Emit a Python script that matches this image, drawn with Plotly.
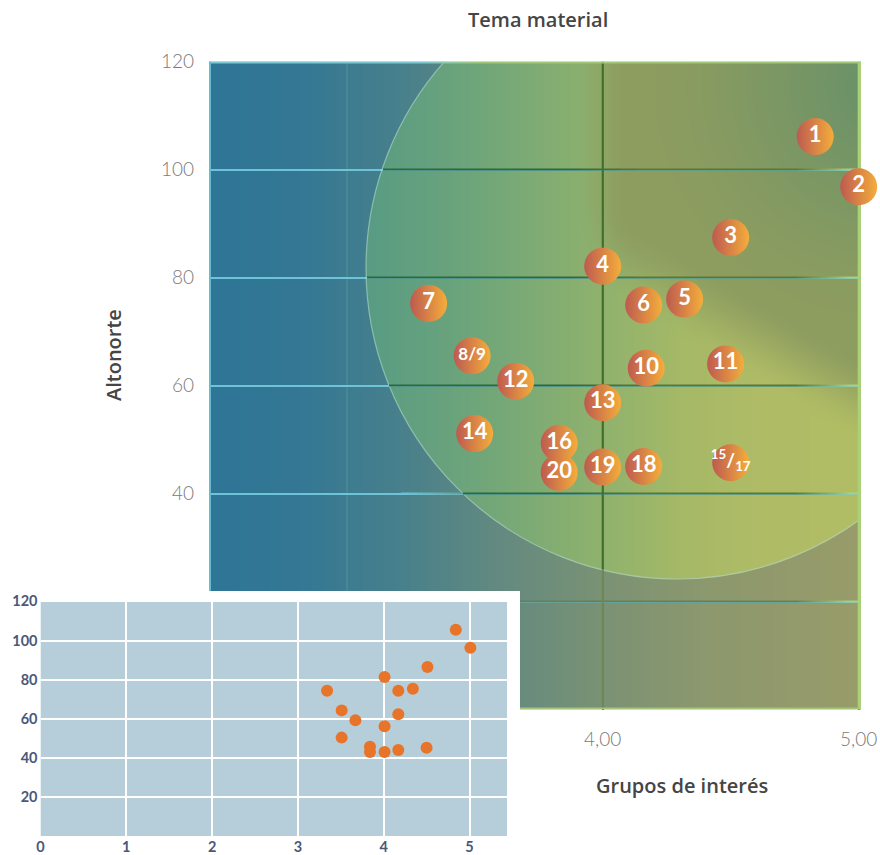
import base64, struct, zlib
import numpy as np
import plotly.graph_objects as go

# ---------------- data ----------------
labels = ["1", "2", "3", "4", "5", "6", "7", "8/9", "10", "11", "12", "13", "14",
          "<sup>15</sup>/<sub>17</sub>", "16", "18", "19", "20"]
grupos_interes = [4.83, 5.00, 4.50, 4.00, 4.32, 4.16, 3.32, 3.49, 4.17, 4.48, 3.66, 4.00,
                  3.50, 4.50, 3.83, 4.16, 4.00, 3.83]
altonorte = [106.1, 96.8, 87.4, 82.1, 76.0, 74.9, 75.2, 65.5, 63.2, 64.0, 60.8, 56.8,
             51.1, 45.7, 49.3, 45.0, 44.9, 43.9]

inset_x = [4.84, 5.01, 4.51, 4.01, 4.34, 4.17, 3.34, 3.51, 3.67, 4.17, 4.01, 3.51,
           3.84, 3.84, 4.01, 4.17, 4.50]
inset_y = [105.5, 96.3, 86.5, 81.4, 75.4, 74.4, 74.4, 64.4, 59.3, 62.4, 56.3, 50.5,
           45.8, 43.2, 43.2, 44.2, 45.3]

x_ticks_main = [3, 4, 5]
y_ticks_main = [0, 20, 40, 60, 80, 100, 120]
x_ticks_inset = [0, 1, 2, 3, 4, 5]
y_ticks_inset = [20, 40, 60, 80, 100, 120]

# ---------------- geometry (pixels) ----------------
FW, FH = 880, 855
X0P, X1P = 209.0, 861.0
Y0P, Y1P = 61.5, 709.5
PXU = 256.0                       # px per x unit
XMIN = 4 - (602.7 - X0P) / PXU
XMAX = XMIN + (X1P - X0P) / PXU
YMAX = 120.0
PYU = (Y1P - Y0P) / YMAX

CXP, CYP, RP = 677.0, 268.0, 311.0   # decorative circle (px)

# inset box (px)
INS_X0, INS_X1 = 40.5, 520.0
INS_Y0, INS_Y1 = 591.0, 836.6
IXU = 85.8
IYU = 1.96
INS_BG_RIGHT = 507.0


def dx(p):
    return XMIN + (p - X0P) / PXU


def dy(p):
    return (Y1P - p) / PYU


def clamp(v, a=0.0, b=1.0):
    return max(a, min(b, v))


def mix(c1, c2, t):
    return tuple(c1[i] + (c2[i] - c1[i]) * t for i in range(3))


def sstep(a):
    a = np.clip(a, 0, 1)
    return a * a * (3 - 2 * a)


# ---------------- background image ----------------
OUT_STOPS = [(209, (47, 117, 151)), (300, (52, 120, 148)), (400, (72, 128, 140)),
             (500, (100, 138, 128)), (600, (122, 146, 117)), (700, (140, 152, 110)),
             (861, (153, 156, 106))]
IN_STOPS = [(365, (88, 156, 132)), (450, (105, 163, 125)), (540, (128, 172, 116)),
            (600, (143, 178, 110)), (680, (165, 185, 103)), (760, (176, 188, 102)),
            (861, (178, 190, 100))]
OLIVE = (141, 157, 96)
DARKG = (94, 142, 108)

W, H = int(X1P - X0P), int(Y1P - Y0P)
PX, PY = np.meshgrid(X0P + np.arange(W) + 0.5, Y0P + np.arange(H) + 0.5)


def interp(xs, stops):
    sx = np.array([s[0] for s in stops], float)
    return np.stack([np.interp(xs, sx, [s[1][k] for s in stops]) for k in range(3)], axis=-1)


out_c = interp(PX, OUT_STOPS)
in_c = interp(PX, IN_STOPS)
# olive zone: right of px~600, above a line through (620,260)-(860,400)
hx = sstep((PX - 570) / 60)
line_py = 260 + (PX - 620) * (140.0 / 240.0)
hy = sstep((line_py - PY + 45) / 90)
w1 = hx * hy
in_c = in_c + (np.array(OLIVE) - in_c) * w1[..., None]
w2 = np.clip(1 - np.hypot(PX - 885, PY - 85) / 230, 0, 1) ** 1.3 * 0.85
in_c = in_c + (np.array(DARKG) - in_c) * w2[..., None]
alpha = np.clip(RP - np.hypot(PX - CXP, PY - CYP) + 0.5, 0, 1)[..., None]
img = np.clip(out_c * (1 - alpha) + in_c * alpha, 0, 255).astype(np.uint8)


def png_uri(arr):
    h, w, _ = arr.shape
    a = arr.astype(np.int16)
    d = a.copy()
    d[:, 1:, :] = (a[:, 1:, :] - a[:, :-1, :]) % 256
    raw = np.concatenate([np.ones((h, 1), np.uint8), d.astype(np.uint8).reshape(h, w * 3)], axis=1).tobytes()

    def chunk(t, data):
        return struct.pack('>I', len(data)) + t + data + struct.pack('>I', zlib.crc32(t + data) & 0xffffffff)

    png = (b'\x89PNG\r\n\x1a\n' + chunk(b'IHDR', struct.pack('>IIBBBBB', w, h, 8, 2, 0, 0, 0))
           + chunk(b'IDAT', zlib.compress(raw, 9)) + chunk(b'IEND', b''))
    return 'data:image/png;base64,' + base64.b64encode(png).decode()


# ---------------- grid / border overlay segments ----------------
CYAN = (110, 195, 215)
LIGHTG = (172, 208, 122)


def q(c):
    return tuple(int(round(v / 4.0) * 4) for v in c)


def hcol(p, py):
    if np.hypot(p - CXP, py - CYP) <= RP:
        c = mix((50, 102, 58), (92, 118, 44), clamp((p - 560) / 80))
    else:
        c = mix(CYAN, (100, 128, 88), clamp((p - 400) / 120))
    return mix(c, LIGHTG, clamp((p - 795) / 55))


def vcol4(p, py):
    if np.hypot(p - CXP, py - CYP) <= RP:
        return (66, 110, 48)
    return (110, 138, 86)


shapes = []


def runs(start, end, colfn, skip=None, step=2.0):
    out = []
    cur, s0 = None, start
    p = start
    while p < end:
        c = q(colfn(p + step / 2))
        if c != cur:
            if cur is not None:
                out.append((s0, p, cur))
            cur, s0 = c, p
        p += step
    out.append((s0, end, cur))
    return [r for r in out if skip is None or r[2] != q(skip)]


def hline(yv, colfn, skip=None, width=2):
    py = Y1P - yv * PYU
    for a, b, c in runs(X0P, X1P, lambda p: colfn(p, py), skip):
        shapes.append(dict(type='line', xref='x', yref='y', x0=dx(a), x1=dx(b), y0=yv, y1=yv,
                           line=dict(color='rgb(%d,%d,%d)' % c, width=width), layer='between'))


def vline(xv, colfn, width=2):
    p = X0P + (xv - XMIN) * PXU
    for a, b, c in runs(Y0P, Y1P, lambda py: colfn(p, py)):
        shapes.append(dict(type='line', xref='x', yref='y', x0=xv, x1=xv, y0=dy(a), y1=dy(b),
                           line=dict(color='rgb(%d,%d,%d)' % c, width=width), layer='between'))


# circle outline
cx, cy, rx, ry = dx(CXP), dy(CYP), RP / PXU, RP / PYU
shapes.append(dict(type='circle', xref='x', yref='y', x0=cx - rx, x1=cx + rx, y0=cy - ry, y1=cy + ry,
                   line=dict(color='rgba(190,228,205,0.55)', width=1.2), fillcolor='rgba(0,0,0,0)',
                   layer='between'))

for yv in y_ticks_main[1:-1]:
    hline(yv, hcol, skip=CYAN)
for xv in x_ticks_main:
    if xv == 4:
        vline(xv, vcol4)
    elif xv == 5:
        vline(xv, lambda p, py: LIGHTG)

# borders
hline(YMAX - 1 / PYU, lambda p, py: mix((125, 198, 212), (160, 202, 122), clamp((p - 420) / 60)))
hline(1 / PYU, lambda p, py: (165, 196, 118))
vline(XMIN + 1 / PXU, lambda p, py: (100, 188, 210))
vline(XMAX - 1 / PXU, lambda p, py: (168, 208, 122))

# inset background (drawn in the inset subplot, above the main subplot)
IX_MAX = (INS_X1 - INS_X0) / IXU
IY_MAX = (INS_Y1 - INS_Y0) / IYU
shapes.append(dict(type='rect', xref='x2', yref='y2', x0=-1, x1=IX_MAX + 1, y0=-10, y1=IY_MAX + 10,
                   fillcolor='white', line=dict(width=0), layer='below'))
shapes.append(dict(type='rect', xref='x2', yref='y2', x0=0, x1=(INS_BG_RIGHT - INS_X0) / IXU, y0=0, y1=120,
                   fillcolor='#b5ced9', line=dict(width=0), layer='below'))

# ---------------- figure ----------------
fig = go.Figure()
text_sizes = [22 if len(t) <= 2 else (19 if t.startswith('<sup>') else 17) for t in labels]
fig.add_trace(go.Scatter(
    x=grupos_interes, y=altonorte, mode='markers+text', text=labels,
    textposition='middle center',
    textfont=dict(family='Lato', size=text_sizes, color='white', weight='bold'),
    marker=dict(size=37, color='#bd5a50', line=dict(width=0),
                gradient=dict(type='horizontal', color='#f4ad3b')),
    hoverinfo='skip', xaxis='x', yaxis='y', cliponaxis=False))

fig.add_trace(go.Scatter(
    x=inset_x, y=inset_y, mode='markers',
    marker=dict(size=12, color='#e8742a', line=dict(width=0)),
    hoverinfo='skip', xaxis='x2', yaxis='y2'))

tick_font_main = dict(family='Lato', size=19, color='#7a7a7a', weight=300)
tick_font_inset = dict(family='Lato', size=14.5, color='#4b5878', weight='bold')
title_font = dict(family='Open Sans', size=20, color='#454545', weight=600)

# labels of ticks hidden behind the inset box are left blank
x_main_text = ['' if v < 3.5 else ('%.2f' % v).replace('.', ',') for v in x_ticks_main]
y_main_text = ['' if v < 30 else str(v) for v in y_ticks_main]

fig.update_layout(
    width=FW, height=FH, margin=dict(l=0, r=0, t=0, b=0, autoexpand=False),
    paper_bgcolor='white', plot_bgcolor='rgba(0,0,0,0)', showlegend=False,
    images=[dict(source=png_uri(img), xref='x', yref='y', x=XMIN, y=YMAX,
                 sizex=XMAX - XMIN, sizey=YMAX, xanchor='left', yanchor='top',
                 sizing='stretch', layer='below')],
    shapes=shapes,
    xaxis=dict(domain=[X0P / FW, X1P / FW], range=[XMIN, XMAX], tickvals=x_ticks_main,
               ticktext=x_main_text, automargin=False,
               showgrid=True, gridcolor='rgb(70,134,150)', gridwidth=2,
               zeroline=False, showline=False, ticks='', tickfont=tick_font_main,
               ticklabelstandoff=16, anchor='y', fixedrange=True),
    yaxis=dict(domain=[1 - Y1P / FH, 1 - Y0P / FH], range=[0, YMAX], tickvals=y_ticks_main,
               ticktext=y_main_text, automargin=False,
               showgrid=True, gridcolor='rgb(%d,%d,%d)' % CYAN, gridwidth=2,
               zeroline=False, showline=False, ticks='', tickfont=tick_font_main,
               ticklabelstandoff=14, anchor='x', fixedrange=True),
    xaxis2=dict(domain=[INS_X0 / FW, INS_X1 / FW], range=[0, IX_MAX], tickvals=x_ticks_inset,
                automargin=False,
                showgrid=True, gridcolor='white', gridwidth=1.5, zeroline=False,
                showline=False, ticks='', tickfont=tick_font_inset, anchor='y2',
                ticklabelstandoff=0, fixedrange=True),
    yaxis2=dict(domain=[1 - INS_Y1 / FH, 1 - INS_Y0 / FH], range=[0, IY_MAX], tickvals=y_ticks_inset,
                automargin=False,
                showgrid=True, gridcolor='white', gridwidth=1.5, zeroline=True, zerolinecolor='white',
                zerolinewidth=1.5, showline=False, ticks='', tickfont=tick_font_inset, anchor='x2',
                ticklabelstandoff=2, fixedrange=True),
    annotations=[
        dict(text='Tema material', x=537.5 / FW, y=1 - 19 / FH, xref='paper', yref='paper',
             showarrow=False, xanchor='center', yanchor='middle', font=title_font),
        dict(text='Altonorte', x=113 / FW, y=1 - 355 / FH, xref='paper', yref='paper',
             showarrow=False, xanchor='center', yanchor='middle', textangle=-90, font=title_font),
        dict(text='Grupos de interés', x=682 / FW, y=1 - 785 / FH, xref='paper', yref='paper',
             showarrow=False, xanchor='center', yanchor='middle', font=title_font),
    ],
)

fig.write_html('out.html')
